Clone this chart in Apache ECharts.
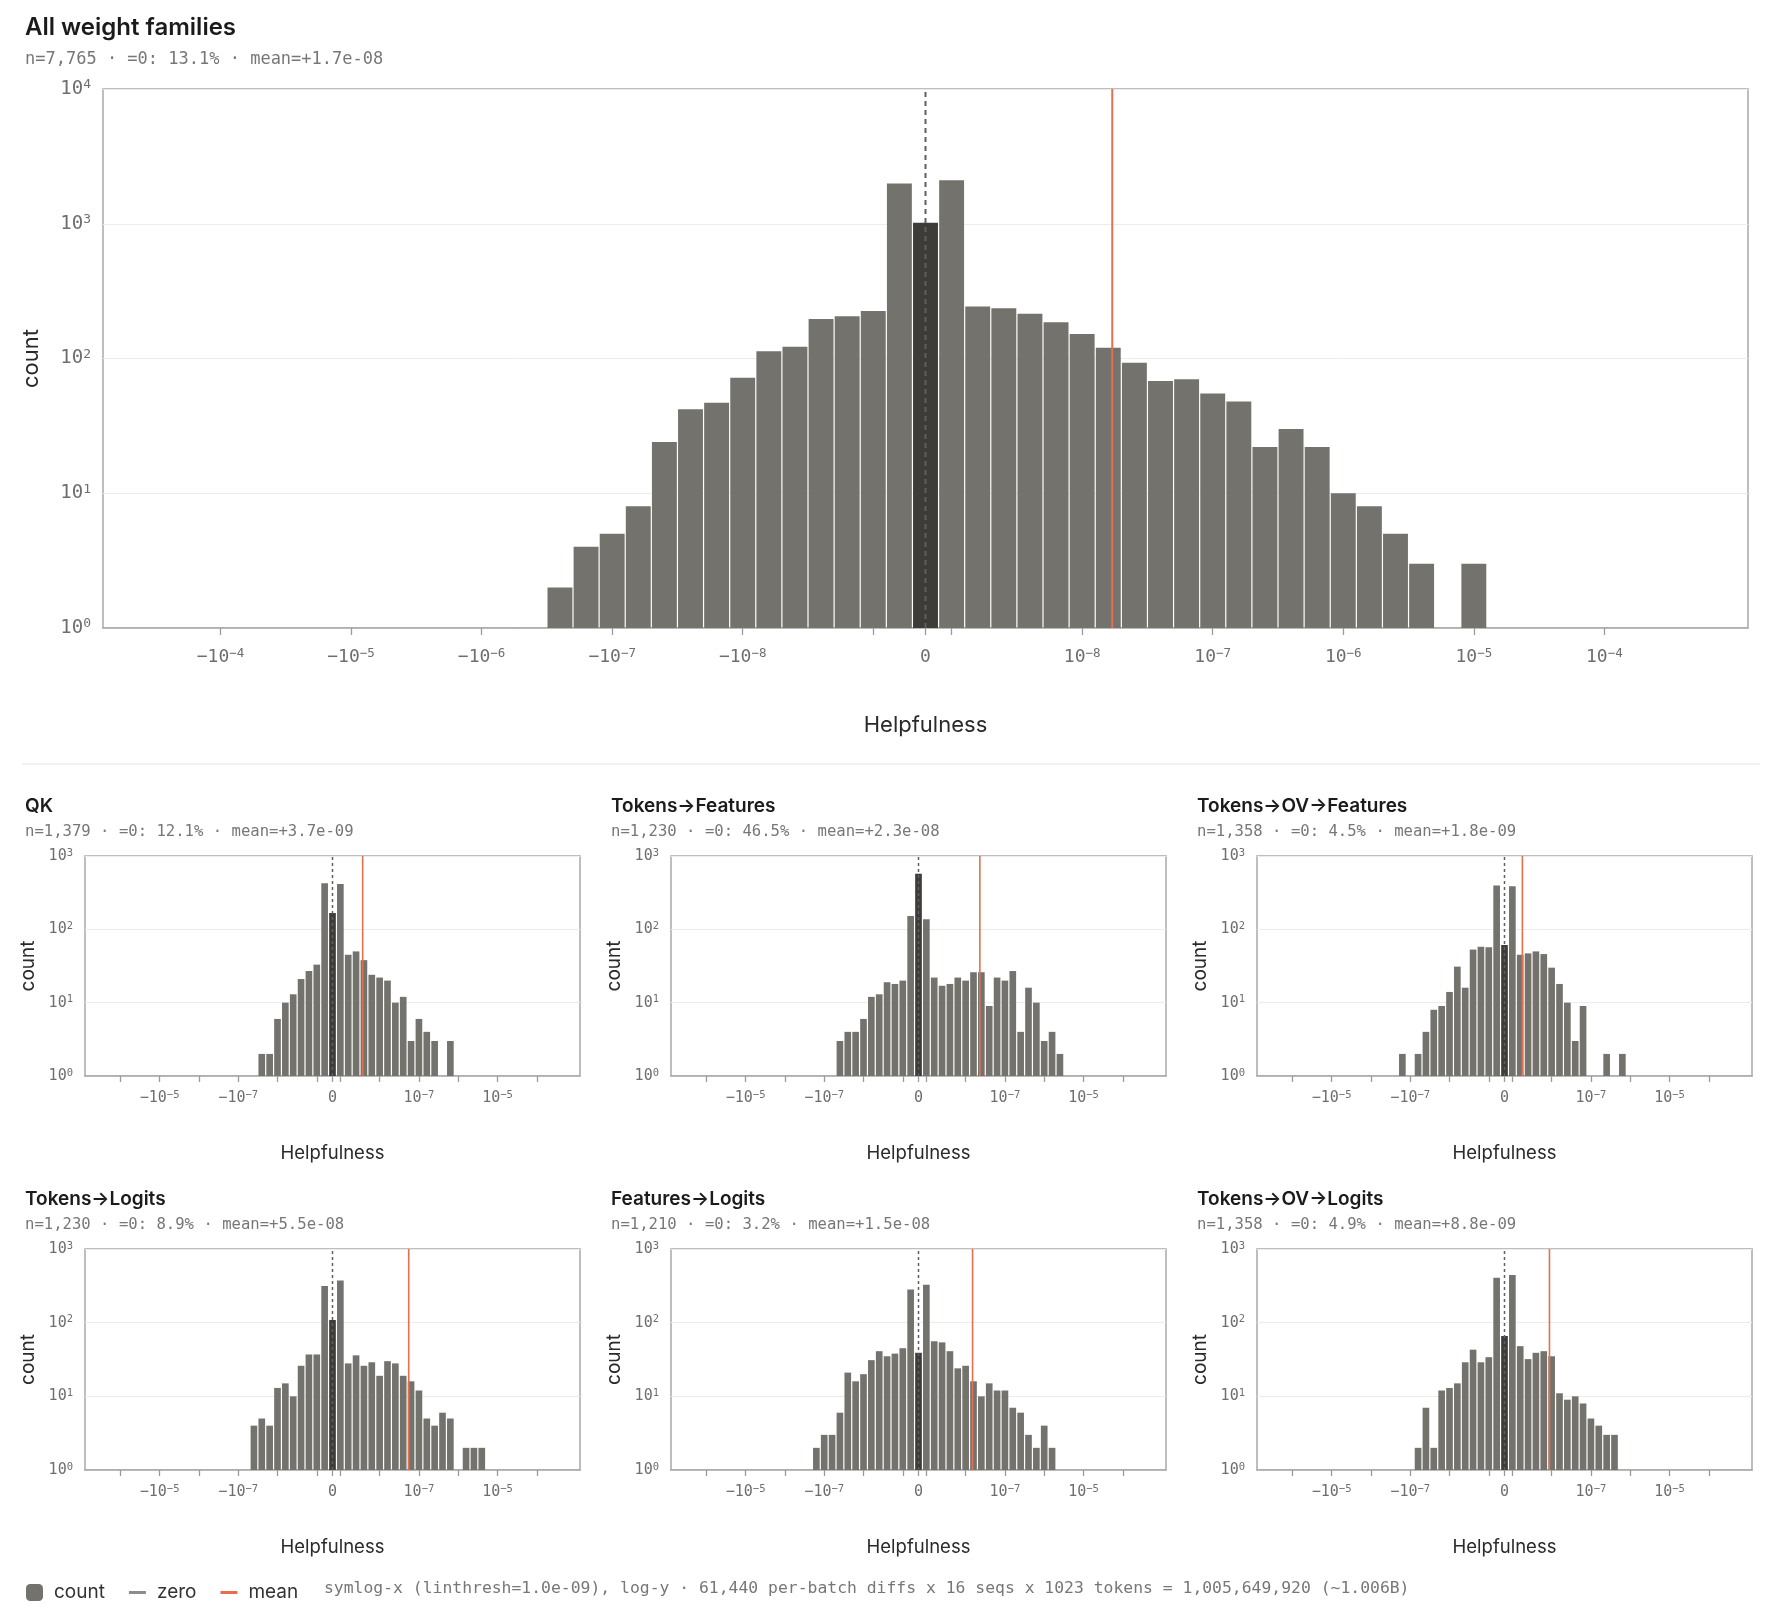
<!DOCTYPE html>
<html>
<head>
<meta charset="utf-8">
<title>Helpfulness by weight family</title>
<script src="https://cdn.jsdelivr.net/npm/echarts@6/dist/echarts.min.js"></script>
<style>
  html, body { margin: 0; padding: 0; background: #ffffff; }
  #main { width: 1774px; height: 1616px; }
</style>
</head>
<body>
<div id="main"></div>
<script>
// histogram bins: 5 per decade on a symlog x axis, bin 0 = exact zeros
// each panel: index of first bin, then counts bin by bin (0 = empty bin)
var allStart = -14;
var allCounts = [2, 4, 5, 8, 24, 42, 47, 72, 113, 122, 196, 206, 225, 1990,
  1017,
  2099, 243, 236, 215, 186, 152, 120, 93, 68, 70, 55, 48, 22, 30, 22, 10, 8, 5, 3, 0, 3];

var qkStart = -9;
var qkCounts = [2, 2, 6, 10, 13, 21, 27, 33, 425,
  167,
  416, 45, 50, 38, 24, 22, 20, 10, 12, 3, 6, 4, 3, 0, 3];

var tokFeatStart = -10;
var tokFeatCounts = [3, 4, 4, 6, 12, 13, 19, 18, 20, 152,
  572,
  137, 22, 17, 18, 22, 20, 26, 26, 9, 22, 20, 27, 4, 16, 10, 3, 4, 2];

var tokOvFeatStart = -13;
var tokOvFeatCounts = [2, 0, 2, 4, 8, 9, 14, 31, 16, 53, 58, 57, 395,
  61,
  386, 45, 47, 50, 46, 30, 18, 10, 3, 9, 0, 0, 2, 0, 2];

var tokLogStart = -10;
var tokLogCounts = [4, 5, 4, 13, 15, 10, 26, 37, 37, 314,
  109,
  375, 28, 36, 26, 29, 19, 30, 28, 19, 16, 12, 5, 4, 6, 5, 0, 2, 2, 2];

var featLogStart = -13;
var featLogCounts = [2, 3, 3, 6, 21, 16, 20, 31, 41, 35, 38, 45, 283,
  39,
  327, 56, 54, 41, 24, 26, 16, 10, 15, 12, 12, 7, 6, 3, 2, 4, 2];

var tokOvLogStart = -11;
var tokOvLogCounts = [2, 7, 2, 12, 13, 15, 29, 43, 29, 34, 407,
  66,
  443, 48, 32, 39, 41, 35, 11, 9, 10, 8, 5, 4, 3, 3];

var panelTitles = ['All weight families', 'QK', 'Tokens\u2192Features', 'Tokens\u2192OV\u2192Features',
  'Tokens\u2192Logits', 'Features\u2192Logits', 'Tokens\u2192OV\u2192Logits'];
var panelSubtitles = [
  'n=7,765 \u00b7 =0: 13.1% \u00b7 mean=+1.7e-08',
  'n=1,379 \u00b7 =0: 12.1% \u00b7 mean=+3.7e-09',
  'n=1,230 \u00b7 =0: 46.5% \u00b7 mean=+2.3e-08',
  'n=1,358 \u00b7 =0: 4.5% \u00b7 mean=+1.8e-09',
  'n=1,230 \u00b7 =0: 8.9% \u00b7 mean=+5.5e-08',
  'n=1,210 \u00b7 =0: 3.2% \u00b7 mean=+1.5e-08',
  'n=1,358 \u00b7 =0: 4.9% \u00b7 mean=+8.8e-09'
];
var panelMeans = [1.7e-8, 3.7e-9, 2.3e-8, 1.8e-9, 5.5e-8, 1.5e-8, 8.8e-9];

// x tick values (decades), and which of them get a label
var tickValues = [-1e-4, -1e-5, -1e-6, -1e-7, -1e-8, -1e-9, 0, 1e-9, 1e-8, 1e-7, 1e-6, 1e-5, 1e-4];
var mainLabelValues = [-1e-4, -1e-5, -1e-6, -1e-7, -1e-8, 0, 1e-8, 1e-7, 1e-6, 1e-5, 1e-4];
var smallLabelValues = [-1e-5, -1e-7, 0, 1e-7, 1e-5];

var footNote = 'symlog-x (linthresh=1.0e-09), log-y \u00b7 61,440 per-batch diffs x 16 seqs x 1023 tokens = 1,005,649,920 (~1.006B)';

var starts = [allStart, qkStart, tokFeatStart, tokOvFeatStart, tokLogStart, featLogStart, tokOvLogStart];
var counts = [allCounts, qkCounts, tokFeatCounts, tokOvFeatCounts, tokLogCounts, featLogCounts, tokOvLogCounts];

var SANS = 'Inter, "Noto Sans", sans-serif';
var MONO = '"DejaVu Sans Mono", "Liberation Mono", monospace';
var BAR = '#73726d';
var ZERO_BAR = '#3d3c38';
var MEAN = '#e4704f';
var ZERO_LINE = '#5f5f5f';
var TXT = '#6e6e6e';

// symlog position in bin units (linthresh 1e-9, 5 bins per decade)
var LINTHRESH = 1e-9, BINS_PER_DECADE = 5;
function symPos(v) {
  if (v === 0) return 0;
  var d = BINS_PER_DECADE * Math.log10(Math.abs(v) / LINTHRESH);
  var p = v > 0 ? 1 + d : -2 - d;
  return Math.round(p * 1e6) / 1e6;
}

// "10" with a raised exponent, as rich text
function powRich(exp, neg) {
  var e = String(exp).replace('-', '\u2212');
  return '{b|' + (neg ? '\u2212' : '') + '10}{s|' + e + '}';
}
function powLabel(v) {
  if (v === 0) return '{b|0}';
  return powRich(Math.round(Math.log10(Math.abs(v))), v < 0);
}
function richStyles(base, small) {
  return {
    b: { fontFamily: MONO, fontSize: base, color: TXT, lineHeight: base + 2 },
    s: { fontFamily: MONO, fontSize: small, color: TXT, verticalAlign: 'top', lineHeight: small }
  };
}

function renderBars(params, api) {
  var bin = api.value(0), n = api.value(1);
  var tl = api.coord([bin - 0.5, n]);
  var br = api.coord([bin + 0.5, 1]);
  return {
    type: 'rect',
    shape: { x: tl[0] + 0.6, y: tl[1], width: br[0] - tl[0] - 1.2, height: br[1] - tl[1] },
    style: { fill: bin === 0 ? ZERO_BAR : BAR }
  };
}

// short horizontal bar icon for the line entries of the legend
var LINE_ICON = 'path://M0,0M17,17M0,7H17V10H0Z';

// grid boxes
var grids = [
  { left: 103, top: 89, width: 1645, height: 539 },
  { left: 85, top: 856, width: 495, height: 220 },
  { left: 671, top: 856, width: 495, height: 220 },
  { left: 1257, top: 856, width: 495, height: 220 },
  { left: 85, top: 1249, width: 495, height: 221 },
  { left: 671, top: 1249, width: 495, height: 221 },
  { left: 1257, top: 1249, width: 495, height: 221 }
];
var titleLeft = [25, 25, 611, 1197, 25, 611, 1197];

var option = {
  animation: false,
  backgroundColor: '#ffffff',
  title: [],
  grid: [],
  xAxis: [],
  yAxis: [],
  series: [],
  legend: {
    left: 21, top: 1578,
    itemWidth: 17, itemHeight: 17, itemGap: 24,
    textStyle: { fontFamily: SANS, fontSize: 19, color: '#333333', padding: [0, 0, 0, 6] },
    data: [
      { name: 'count', icon: 'roundRect' },
      { name: 'zero', icon: LINE_ICON, itemStyle: { color: '#8c8c8c' } },
      { name: 'mean', icon: LINE_ICON, itemStyle: { color: MEAN } }
    ]
  },
  graphic: [
    { type: 'line', shape: { x1: 22, y1: 764, x2: 1760, y2: 764 }, style: { stroke: '#e4e4e4', lineWidth: 1.2 } },
    { type: 'text', left: 324, top: 1581,
      style: { text: footNote, font: '16.4px ' + MONO, fill: '#777777' } }
  ]
};

grids.forEach(function (g, i) {
  var main = i === 0;
  var ymax = main ? 1e4 : 1e3;
  var ttlSize = main ? 24 : 19;
  var subSize = main ? 17 : 15.6;
  var rowTop = main ? 16 : (i <= 3 ? 797 : 1190);
  var subTop = main ? 51 : (i <= 3 ? 824 : 1217);

  option.title.push({ text: panelTitles[i], left: titleLeft[i], top: rowTop, padding: 0,
    textStyle: { fontFamily: SANS, fontSize: ttlSize, fontWeight: 600, color: '#1b1b1b' } });
  option.title.push({ text: panelSubtitles[i], left: titleLeft[i], top: subTop, padding: 0,
    textStyle: { fontFamily: MONO, fontSize: subSize, fontWeight: 'normal', color: '#777777' } });

  option.grid.push({ left: g.left, top: g.top, width: g.width, height: g.height,
    show: true, borderColor: '#a9a9a9', borderWidth: 1.5, outerBoundsMode: 'none' });

  var labelVals = main ? mainLabelValues : smallLabelValues;
  option.xAxis.push({
    type: 'value', gridIndex: i, min: -31.5, max: 31.5,
    name: 'Helpfulness', nameLocation: 'middle', nameGap: main ? 86 : 68,
    nameTextStyle: { fontFamily: SANS, fontSize: main ? 22 : 18.5, color: '#2a2a2a' },
    axisLine: { show: true, lineStyle: { color: '#a9a9a9', width: 1.5 } },
    axisTick: { show: true, length: main ? 7 : 6, lineStyle: { color: '#9a9a9a', width: 1.3 },
      customValues: tickValues.map(symPos) },
    axisLabel: {
      customValues: labelVals.map(symPos),
      margin: main ? 19 : 14,
      rich: main ? richStyles(18, 12.5) : richStyles(15, 10.5),
      formatter: function (val) {
        for (var k = 0; k < labelVals.length; k++) {
          if (Math.abs(symPos(labelVals[k]) - val) < 1e-3) return powLabel(labelVals[k]);
        }
        return '';
      }
    },
    splitLine: { show: false }
  });

  option.yAxis.push({
    type: 'log', logBase: 10, gridIndex: i, min: 1, max: ymax,
    name: 'count', nameLocation: 'middle', nameRotate: 90, nameGap: main ? 61 : 47,
    nameTextStyle: { fontFamily: SANS, fontSize: main ? 22 : 19, color: '#2a2a2a' },
    axisLine: { show: false },
    axisTick: { show: false },
    axisLabel: {
      margin: 12,
      rich: main ? richStyles(19, 13) : richStyles(15, 10.5),
      formatter: function (val) { return powRich(Math.round(Math.log10(val)), false); }
    },
    splitLine: { show: true, lineStyle: { color: '#ececec', width: 1 } }
  });

  var data = [];
  counts[i].forEach(function (c, k) {
    if (c > 0) data.push([starts[i] + k, c]);
  });

  option.series.push({
    name: 'count', type: 'custom', xAxisIndex: i, yAxisIndex: i,
    itemStyle: { color: BAR },
    renderItem: renderBars,
    encode: { x: 0, y: 1 },
    data: data,
    z: 2
  });
  option.series.push({
    name: 'zero', type: 'line', xAxisIndex: i, yAxisIndex: i,
    symbol: 'none', silent: true,
    color: ZERO_LINE,
    lineStyle: { color: ZERO_LINE, width: main ? 2 : 1.5, type: main ? [5, 4] : [3, 3] },
    data: [[0, 1], [0, ymax]],
    z: 4
  });
  var mx = symPos(panelMeans[i]);
  option.series.push({
    name: 'mean', type: 'line', xAxisIndex: i, yAxisIndex: i,
    symbol: 'none', silent: true,
    color: MEAN,
    lineStyle: { color: MEAN, width: main ? 2 : 1.6, type: 'solid' },
    data: [[mx, 1], [mx, ymax]],
    z: 5
  });
});

var chart = echarts.init(document.getElementById('main'));
chart.setOption(option);
</script>
</body>
</html>
